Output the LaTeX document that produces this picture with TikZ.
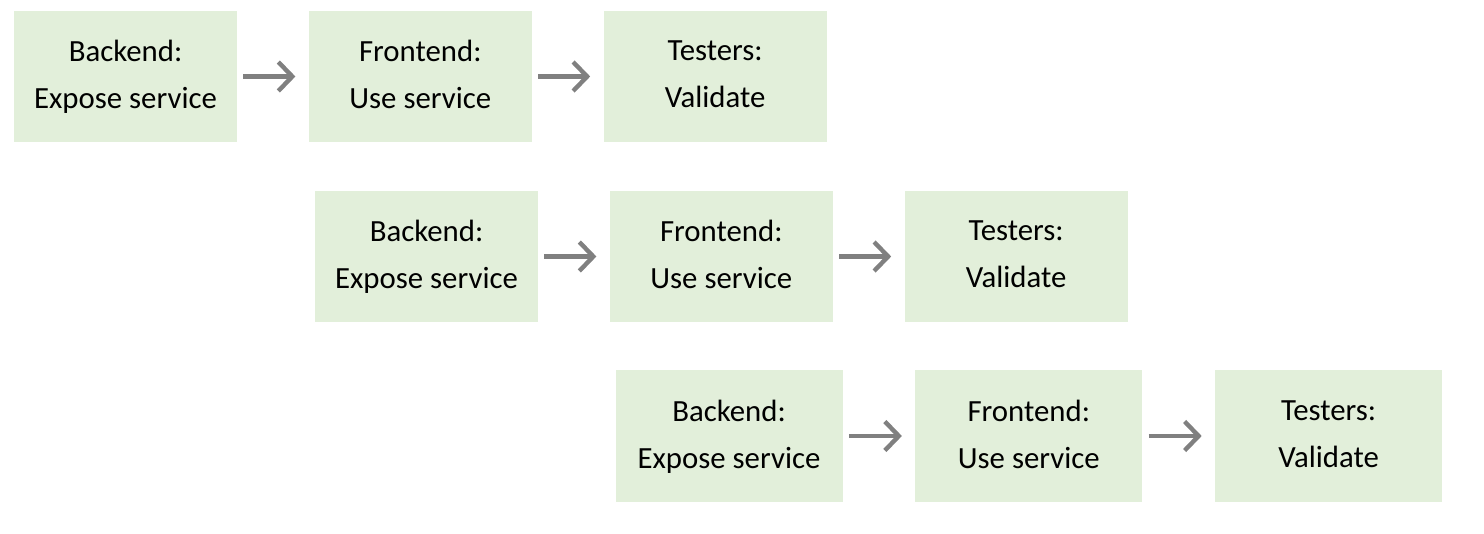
\documentclass[tikz,border=0pt]{standalone}
\usepackage{fontspec}
\setmainfont{Carlito}
\usetikzlibrary{arrows.meta}
\usetikzlibrary{positioning}

\begin{document}
\begin{tikzpicture}
	[x=0.5pt,y=-0.5pt,node distance=35.5pt,
	box/.style = {
		fill=boxgreen, inner sep=0pt,
		minimum width=111.5pt, minimum height=65.5pt,
		align=center, font=\fontsize{15.4}{23.5}\selectfont,
		text depth=2pt
	},
	widebox/.style = {
		box, minimum width=113.5pt
	},
	flow/.style = {
		draw=flowgray, line width=2.2pt,
		-{Straight Barb[length=7pt,width=14.5pt,line width=2.2pt]},
		shorten <=3pt, shorten >=6.5pt
	}]
	\definecolor{boxgreen}{HTML}{E2EFDA}
	\definecolor{flowgray}{HTML}{808080}
	\useasboundingbox (0,0) rectangle (1484,534);
	
	%Draw nodes
	\node[box] at (125.5,76.5) (b1) {Backend:\\Expose service};
	\node[box,right=of b1] (f1) {Frontend:\\Use service};
	\node[box,right=of f1] (t1) {Testers:\\Validate};
	
	\node[box] at (426.5,256.5) (b2) {Backend:\\Expose service};
	\node[box,right=of b2] (f2) {Frontend:\\Use service};
	\node[box,right=of f2] (t2) {Testers:\\Validate};
	
	\node[widebox] at (729,436) (b3) {Backend:\\Expose service};
	\node[widebox,right=36pt of b3] (f3) {Frontend:\\Use service};
	\node[widebox,right=36pt of f3] (t3) {Testers:\\Validate};
	
	%Draw arrows
	\draw[flow] (b1) -- (f1);
	\draw[flow] (f1) -- (t1);
	\draw[flow] (b2) -- (f2);
	\draw[flow] (f2) -- (t2);
	\draw[flow] (b3) -- (f3);
	\draw[flow] (f3) -- (t3);
	
\end{tikzpicture}
\end{document}
